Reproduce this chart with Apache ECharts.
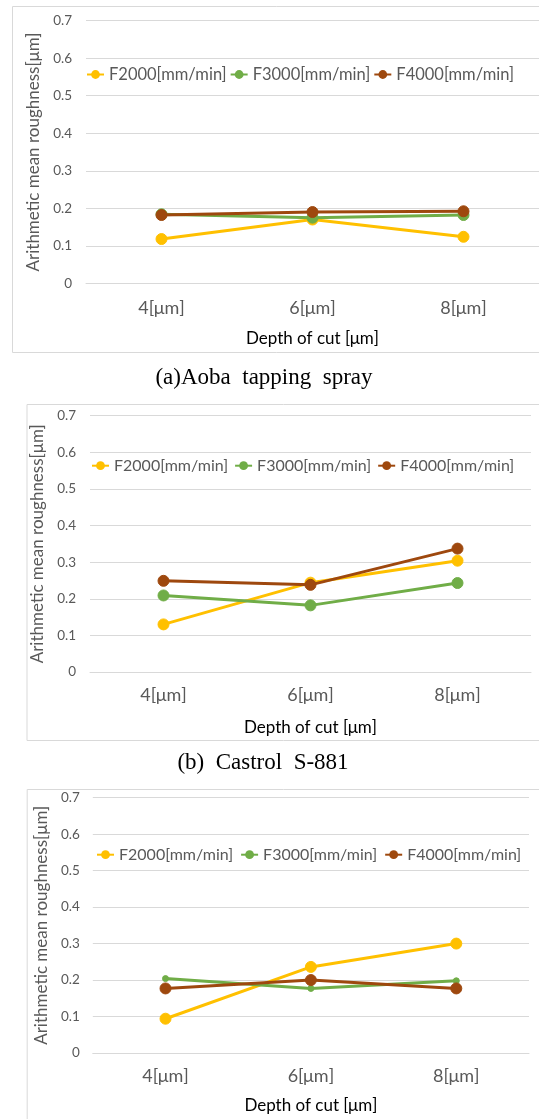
<!DOCTYPE html>
<html>
<head>
<meta charset="utf-8">
<script src="https://cdn.jsdelivr.net/npm/echarts@6/dist/echarts.min.js"></script>
<style>
  html, body { margin: 0; padding: 0; background: #fff; width: 539px; height: 1119px; overflow: hidden; }
  .c { position: absolute; left: 0; width: 539px; }
</style>
</head>
<body>
<div id="c1" class="c" style="top:0;height:390px"></div>
<div id="c2" class="c" style="top:390px;height:390px"></div>
<div id="c3" class="c" style="top:780px;height:339px"></div>
<script>
// ---- data ----
const categories = ['4[μm]', '6[μm]', '8[μm]'];
const seriesNames = ['F2000[mm/min]', 'F3000[mm/min]', 'F4000[mm/min]'];
const yMin = 0, yMax = 0.7, yStep = 0.1;
const xAxisTitle = 'Depth of cut [μm]';
const yAxisTitle = 'Arithmetic mean roughness[μm]';
const captions = ['(a)Aoba  tapping  spray', '(b)  Castrol  S-881', ''];

const aobaF2000 = [0.118, 0.170, 0.124];
const aobaF3000 = [0.184, 0.175, 0.182];
const aobaF4000 = [0.182, 0.190, 0.192];

const castrolF2000 = [0.130, 0.244, 0.304];
const castrolF3000 = [0.209, 0.182, 0.243];
const castrolF4000 = [0.249, 0.238, 0.337];

const thirdF2000 = [0.094, 0.236, 0.300];
const thirdF3000 = [0.204, 0.177, 0.198];
const thirdF4000 = [0.177, 0.200, 0.177];

const colors = ['#FFC000', '#70AD47', '#9E480E'];
const FONT = 'Lato, "Open Sans", sans-serif';

function makeChart(id, cfg) {
  const chart = echarts.init(document.getElementById(id), null, { renderer: 'canvas' });
  const series = cfg.values.map((vals, i) => ({
    name: seriesNames[i],
    type: 'line',
    data: vals,
    symbol: 'circle',
    symbolSize: cfg.symbolSizes[i],
    showSymbol: true,
    animation: false,
    lineStyle: { color: colors[i], width: 3 },
    itemStyle: { color: colors[i], borderColor: colors[i] },
    z: 2 + i
  }));
  const graphic = [{
    type: 'rect',
    shape: { x: cfg.box.x + 0.5, y: cfg.box.y + 0.5, width: 560, height: cfg.box.h },
    style: { fill: 'none', stroke: '#d9d9d9', lineWidth: 1 },
    silent: true, z: -10
  }];
  if (cfg.caption) {
    graphic.push({
      type: 'text',
      x: cfg.captionX, y: cfg.captionY,
      style: {
        text: cfg.caption, font: '23px "Liberation Serif", "Times New Roman", serif',
        fill: '#000', align: 'center', verticalAlign: 'middle'
      },
      silent: true
    });
  }
  chart.setOption({
    animation: false,
    textStyle: { fontFamily: FONT },
    color: colors,
    grid: { left: cfg.grid.left, right: cfg.grid.right, top: cfg.grid.top, bottom: cfg.grid.bottom, containLabel: false },
    legend: {
      data: seriesNames,
      left: cfg.legend.left,
      top: cfg.legend.top,
      width: 520,
      padding: 0,
      itemGap: cfg.legend.gap,
      itemWidth: 17,
      itemHeight: 11,
      textStyle: { color: '#595959', fontSize: cfg.legend.fontSize, fontFamily: FONT },
      selectedMode: false
    },
    xAxis: {
      type: 'category',
      data: categories,
      boundaryGap: true,
      axisLine: { show: true, lineStyle: { color: '#d9d9d9', width: 1 } },
      axisTick: { show: false },
      axisLabel: { color: '#595959', fontSize: 18, margin: cfg.xLabelMargin, fontFamily: FONT },
      name: xAxisTitle,
      nameLocation: 'middle',
      nameGap: cfg.xNameGap,
      nameTextStyle: { color: '#000', fontSize: 17, fontFamily: FONT }
    },
    yAxis: {
      type: 'value',
      min: yMin, max: yMax, interval: yStep,
      axisLine: { show: false },
      axisTick: { show: false },
      splitLine: { show: true, lineStyle: { color: '#d9d9d9', width: 1 } },
      axisLabel: { color: '#595959', fontSize: 13.5, margin: cfg.yLabelMargin, fontFamily: FONT,
        formatter: v => (Math.round(v * 10) / 10).toString() },
      name: yAxisTitle,
      nameLocation: 'middle',
      nameGap: cfg.yNameGap,
      nameRotate: 90,
      nameTextStyle: { color: '#595959', fontSize: 17, fontFamily: FONT }
    },
    graphic: graphic,
    series: series
  });
  return chart;
}

makeChart('c1', {
  values: [aobaF2000, aobaF3000, aobaF4000],
  symbolSizes: [11, 11, 11],
  box: { x: 12, y: 6, h: 346 },
  grid: { left: 86, right: -1, top: 20.7, bottom: 106.7 },
  legend: { left: 86, top: 66, gap: 3, fontSize: 16.5 },
  xLabelMargin: 16, xNameGap: 47, yLabelMargin: 14, yNameGap: 35,
  caption: captions[0], captionX: 264, captionY: 378
});

makeChart('c2', {
  values: [castrolF2000, castrolF3000, castrolF4000],
  symbolSizes: [11, 11, 11],
  box: { x: 26.5, y: 14, h: 336 },
  grid: { left: 90, right: 8, top: 25.7, bottom: 108 },
  legend: { left: 91, top: 67.7, gap: 6, fontSize: 16 },
  xLabelMargin: 14, xNameGap: 47, yLabelMargin: 14, yNameGap: 34,
  caption: captions[1], captionX: 263, captionY: 373
});

makeChart('c3', {
  values: [thirdF2000, thirdF3000, thirdF4000],
  symbolSizes: [11, 6, 11],
  box: { x: 26.7, y: 9, h: 400 },
  grid: { left: 92.8, right: 10, top: 17.7, bottom: 63.7 },
  legend: { left: 96, top: 66.7, gap: 7, fontSize: 16 },
  xLabelMargin: 14, xNameGap: 44, yLabelMargin: 13, yNameGap: 33,
  caption: captions[2]
});
</script>
</body>
</html>
